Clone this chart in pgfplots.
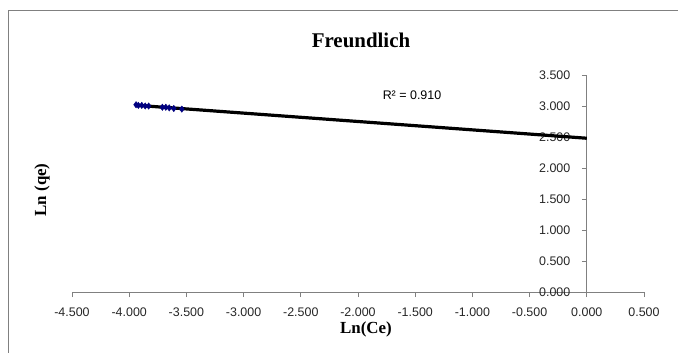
\documentclass[border=0pt]{standalone}
\usepackage{fontspec}
\setmainfont{Liberation Sans}
\newfontfamily\tnr{Liberation Serif}
\usepackage{pgfplots}
\pgfplotsset{compat=1.18}
\definecolor{navyblue}{HTML}{000080}
\definecolor{axgray}{HTML}{808080}
\begin{document}
\begin{tikzpicture}[x=1bp,y=1bp]
\useasboundingbox (-72,-60) rectangle (606,292);
\draw[axgray, line width=0.8bp] (-64,-80) rectangle (640,282);
\begin{axis}[
  at={(0,0)}, anchor=south west,
  scale only axis, width=572bp, height=217bp,
  axis lines=middle,
  xmin=-4.5, xmax=0.5, ymin=0, ymax=3.5,
  xtick={-4.5,-4,-3.5,-3,-2.5,-2,-1.5,-1,-0.5,0,0.5},
  ytick={0,0.5,1,1.5,2,2.5,3,3.5},
  hide obscured x ticks=false, hide obscured y ticks=false,
  tick align=outside,
  major tick length=5bp,
  axis line style={axgray, line width=0.8bp, -},
  tick style={axgray, line width=0.8bp},
  /pgf/number format/assume math mode=true,
  /pgf/number format/.cd, fixed, fixed zerofill, precision=3, use period, 1000 sep={},
  /pgfplots/.cd,
  xticklabel style={font=\fontsize{12.5}{14}\selectfont, color=black!85, yshift=-7bp},
  yticklabel style={font=\fontsize{12.5}{14}\selectfont, color=black!85, xshift=-8bp},
  clip=false,
]
\addplot[black, line width=3.2bp, no markers] coordinates {(-3.93,3.011) (0,2.48)};
\addplot[only marks, mark=diamond*, mark size=3.2bp, color=navyblue] coordinates {
(-3.94,3.02) (-3.92,3.01) (-3.89,3.01) (-3.86,3.00) (-3.83,3.00)
(-3.71,2.98) (-3.68,2.98) (-3.65,2.97) (-3.61,2.96) (-3.54,2.95)};
\end{axis}
\node[font=\tnr\bfseries\fontsize{21}{24}\selectfont] at (289,252) {Freundlich};
\node[font=\tnr\bfseries\fontsize{17}{20}\selectfont] at (294,-37) {Ln(Ce)};
\node[font=\tnr\bfseries\fontsize{17}{20}\selectfont, rotate=90] at (-30,102) {Ln (qe)};
\node[font=\fontsize{12.5}{14}\selectfont] at (340,197) {R² = 0.910};
\end{tikzpicture}
\end{document}
